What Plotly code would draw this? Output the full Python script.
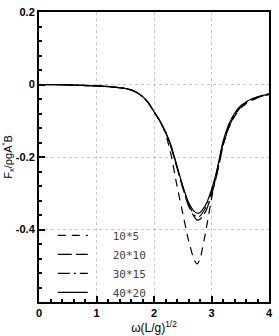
import plotly.graph_objects as go

omega = [0, 0.5, 1.0, 1.3, 1.5, 1.6, 1.7, 1.8, 1.9, 2.0, 2.1, 2.2, 2.3, 2.4, 2.5, 2.6, 2.7, 2.75, 2.8, 2.9, 3.0, 3.1, 3.2, 3.3, 3.4, 3.5, 3.6, 3.7, 3.8, 3.9, 4.0]

fx_10x5 = [0, -0.001, -0.004, -0.007, -0.011, -0.015, -0.022, -0.033, -0.05, -0.075, -0.1, -0.135, -0.196, -0.28, -0.355, -0.43, -0.485, -0.495, -0.482, -0.405, -0.315, -0.235, -0.165, -0.12, -0.088, -0.066, -0.053, -0.044, -0.037, -0.032, -0.028]
fx_20x10 = [0, -0.001, -0.004, -0.007, -0.011, -0.015, -0.022, -0.033, -0.05, -0.075, -0.1, -0.132, -0.175, -0.23, -0.285, -0.335, -0.365, -0.374, -0.372, -0.35, -0.305, -0.245, -0.17, -0.118, -0.086, -0.064, -0.051, -0.042, -0.036, -0.031, -0.027]
fx_30x15 = [0, -0.001, -0.004, -0.007, -0.011, -0.015, -0.022, -0.033, -0.05, -0.075, -0.1, -0.131, -0.172, -0.227, -0.282, -0.33, -0.36, -0.366, -0.363, -0.34, -0.296, -0.238, -0.163, -0.113, -0.082, -0.062, -0.049, -0.041, -0.035, -0.03, -0.026]
fx_40x20 = [0, -0.001, -0.004, -0.007, -0.011, -0.015, -0.022, -0.033, -0.05, -0.075, -0.1, -0.13, -0.17, -0.225, -0.28, -0.325, -0.35, -0.355, -0.353, -0.332, -0.29, -0.232, -0.157, -0.11, -0.08, -0.06, -0.048, -0.04, -0.034, -0.03, -0.026]

series_names = ["10*5", "20*10", "30*15", "40*20"]
series_vals = [fx_10x5, fx_20x10, fx_30x15, fx_40x20]
dashes = ["8px,6px", "14px,4px", "12px,4px,2px,4px", "solid"]

y_ticks = [-0.4, -0.2, 0, 0.2]
y_labels = ["-0.4", "-0.2", "0", "0.2"]
x_ticks = [0, 1, 2, 3, 4]

fig = go.Figure()
for name, vals, d in zip(series_names, series_vals, dashes):
    fig.add_trace(go.Scatter(x=omega, y=vals, mode="lines", name="\u00a0\u00a0\u00a0" + name,
                             line=dict(color="black", width=1.2, dash=d, shape="spline", smoothing=0.5)))

tick_font = dict(family="Liberation Sans, Arial", size=11, color="black", weight="bold")
fig.update_layout(
    width=279, height=336,
    margin=dict(l=38, r=6, t=12, b=33),
    paper_bgcolor="white", plot_bgcolor="white",
    showlegend=True,
    legend=dict(x=0.06, y=-0.017, xanchor="left", yanchor="bottom",
                bgcolor="rgba(0,0,0,0)", font=dict(family="DejaVu Sans Mono", size=11, color="#444"),
                tracegroupgap=0),
    xaxis=dict(range=[0, 4], tickvals=x_ticks, ticktext=[str(v) for v in x_ticks],
               ticks="inside", ticklen=6, tickwidth=2, tickcolor="black",
               showline=True, linecolor="black", linewidth=2, mirror=True,
               showgrid=True, gridcolor="#c8c8c8", griddash="dot", gridwidth=1,
               zeroline=False, tickfont=tick_font,
               minor=dict(dtick=0.2, ticks="inside", ticklen=3, tickcolor="black", showgrid=False),
               title=dict(text="ω(L/g)<sup>1/2</sup>", font=dict(family="Liberation Sans, Arial", size=12, color="black"), standoff=2)),
    yaxis=dict(range=[-0.6, 0.2], tickvals=y_ticks, ticktext=y_labels,
               ticks="inside", ticklen=6, tickwidth=2, tickcolor="black",
               showline=True, linecolor="black", linewidth=2, mirror=True,
               showgrid=True, gridcolor="#c8c8c8", griddash="dot", gridwidth=1,
               zeroline=False, tickfont=tick_font,
               minor=dict(dtick=0.04, ticks="inside", ticklen=3, tickcolor="black", showgrid=False),
               title=dict(text="F<sub>x</sub>/ρgA<sup>*</sup>B", font=dict(family="Liberation Sans, Arial", size=11, color="black"), standoff=2)),
)

fig.write_html("out.html")
